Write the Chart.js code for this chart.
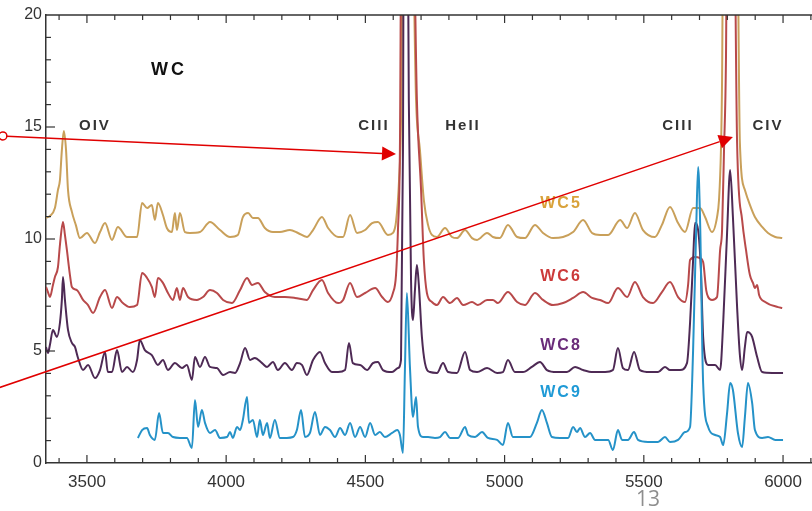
<!DOCTYPE html>
<html><head><meta charset="utf-8">
<script src="https://cdn.jsdelivr.net/npm/chart.js@4.4.1/dist/chart.umd.min.js"></script>
<style>
html,body{margin:0;padding:0;background:#fff;}
#wrap{position:relative;width:812px;height:511px;overflow:hidden;background:#fff;}
canvas{display:block;}
#pg{position:absolute;left:636px;top:484px;font:21px "Open Sans",sans-serif;color:#8e8e8e;}
</style></head><body>
<div id="wrap"><canvas id="c" width="812" height="511"></canvas><div id="pg">13</div></div>
<script>
// ---- axis ticks ----
const xTicks=[3500,4000,4500,5000,5500,6000];
const yTicks=[0,5,10,15,20];
const seriesNames=['WC5','WC6','WC8','WC9'];

// ---- WC5 ----
const wc5Wave=[3353,3367,3385,3396,3403,3410,3417,3425,3432,3446,
3460,3475,3500,3529,3547,3565,3590,3611,3644,3680,
3698,3716,3733,3744,3755,3773,3787,3805,3816,3823,
3834,3852,3870,3906,3942,3978,4014,4042,4060,4079,
4096,4114,4139,4168,4193,4229,4258,4290,4312,4344,
4366,4402,4420,4445,4470,4499,4524,4545,4581,4599,
4610,4621,4628,4639,4660,4682,4696,4710,4725,4739,
4757,4786,4811,4829,4858,4883,4901,4937,4958,4983,
5012,5045,5073,5109,5138,5174,5210,5246,5282,5314,
5343,5372,5415,5440,5468,5497,5540,5565,5594,5623,
5648,5677,5702,5720,5745,5763,5770,5777,5781,5788,
5831,5845,5863,5881,5899,5925,5946,5972,5997];
const wc5Flux=[10.94,11.03,11.38,12.19,12.63,13.97,14.82,13.97,12.19,11.21,
10.63,10.04,10.27,9.82,10.31,10.71,9.96,10.54,10.09,10.09,
11.61,11.38,11.52,10.85,11.61,11.07,10.49,10.31,11.16,10.40,
11.16,10.31,10.27,10.31,10.76,10.40,10.09,10.18,10.98,11.16,
10.94,10.94,10.49,10.31,10.31,10.40,10.27,10.09,10.40,10.98,
10.49,10.09,10.09,11.07,10.27,10.40,10.71,10.76,10.18,10.27,
10.76,12.63,15.31,30,30,16.21,13.97,11.74,10.63,10.18,
10.09,10.49,10.09,10.04,10.40,10.04,9.96,10.27,10.09,10.04,
10.63,10.09,10.04,10.63,10.27,10.04,10.09,10.31,10.85,10.27,
10.18,10.18,10.85,10.49,11.16,10.40,10.09,10.63,11.43,10.71,
10.31,11.38,11.38,10.98,10.31,10.98,11.74,13.97,17.10,30,
30,14.29,12.19,11.52,10.98,10.54,10.27,10.09,10.04];

// ---- WC6 ----
const wc6Wave=[3353,3360,3367,3378,3385,3396,3403,3414,3421,3428,
3439,3446,3464,3486,3504,3522,3547,3565,3590,3608,
3629,3654,3680,3698,3716,3733,3744,3755,3773,3791,
3809,3823,3834,3845,3863,3895,3917,3942,3967,3989,
4021,4050,4075,4093,4114,4139,4175,4211,4247,4290,
4312,4344,4366,4402,4420,4445,4470,4499,4535,4560,
4581,4599,4610,4617,4624,4632,4664,4685,4700,4710,
4721,4739,4757,4779,4804,4829,4851,4883,4904,4937,
4958,4976,5012,5045,5073,5109,5138,5174,5210,5246,
5282,5314,5343,5372,5407,5440,5468,5497,5533,5565,
5594,5623,5648,5659,5666,5684,5702,5713,5724,5731,
5745,5763,5774,5781,5788,5795,5802,5820,5835,5853,
5867,5881,5892,5899,5907,5914,5936,5982,5997];
const wc6Flux=[7.86,7.63,7.41,7.95,8.30,8.75,9.73,10.76,10.18,9.51,
8.39,7.86,7.72,7.28,7.05,6.70,7.41,7.72,6.92,7.41,
7.14,6.96,7.05,8.48,8.26,7.86,7.41,8.26,8.04,7.59,
7.28,7.81,7.28,7.81,7.41,7.28,7.41,7.72,7.59,7.28,
7.14,7.72,8.26,7.95,8.04,7.63,7.41,7.41,7.37,7.28,
7.72,8.17,7.59,7.14,7.28,8.04,7.41,7.59,7.81,7.41,
7.19,7.59,8.39,10.40,13.97,30,30,16.21,12.19,9.06,
7.59,7.19,7.05,7.41,7.14,7.37,7.05,7.19,7.05,7.28,
7.28,7.14,7.63,7.19,7.05,7.59,7.28,7.05,7.14,7.37,
7.63,7.37,7.28,7.14,7.81,7.41,8.08,7.41,7.14,7.63,
8.08,7.41,7.19,7.95,9.06,9.20,9.15,8.97,7.72,7.41,
7.28,7.41,9.51,10.40,13.97,17.99,30,30,14.29,10.85,
9.51,8.39,8.04,7.81,7.95,7.50,7.19,6.96,6.92];

// ---- WC8 ----
const wc8Wave=[3353,3360,3367,3378,3392,3403,3410,3414,3421,3432,
3446,3457,3468,3486,3504,3529,3547,3565,3575,3590,
3608,3626,3644,3665,3680,3690,3708,3733,3755,3773,
3791,3816,3841,3859,3877,3888,3906,3924,3942,3967,
3989,4014,4032,4050,4068,4086,4103,4129,4147,4168,
4186,4211,4236,4254,4272,4290,4312,4337,4355,4380,
4402,4427,4441,4455,4481,4506,4527,4545,4563,4596,
4617,4628,4635,4639,4649,4656,4664,4671,4678,4685,
4692,4703,4714,4732,4757,4779,4797,4829,4858,4876,
4901,4937,4973,4994,5012,5037,5066,5098,5127,5152,
5188,5224,5253,5282,5318,5361,5389,5407,5425,5443,
5465,5486,5522,5551,5576,5594,5630,5655,5666,5677,
5684,5695,5705,5713,5731,5756,5774,5785,5799,5810,
5820,5835,5845,5853,5863,5871,5881,5889,5907,5925,
5961,6000];
const wc8Flux=[5.18,4.91,5.27,5.94,5.63,6.25,7.28,8.30,7.28,5.94,
5.36,5.18,4.69,4.15,4.38,3.79,4.15,4.96,4.06,4.06,
5.04,4.06,4.29,4.06,4.60,5.49,5.04,4.82,4.38,4.60,
4.15,4.46,4.24,4.38,3.71,4.73,4.29,4.73,4.29,4.24,
3.93,4.06,4.02,4.46,5.13,4.60,4.69,4.46,4.29,4.51,
4.15,4.46,4.15,4.46,4.38,3.93,4.60,4.96,4.46,4.06,
4.06,4.15,5.36,4.46,4.38,4.15,4.46,4.51,4.15,4.06,
4.24,4.60,13.97,30,30,16.21,8.17,6.38,7.72,8.84,
7.95,5.63,4.46,4.06,4.02,4.46,4.06,4.02,4.96,4.15,
4.06,4.24,4.02,4.06,4.60,4.06,4.06,4.29,4.51,4.15,
4.06,4.06,4.29,4.15,4.06,4.06,4.15,5.13,4.24,4.15,
4.96,4.15,4.06,4.06,4.29,4.15,4.15,4.46,6.25,9.06,
10.71,10.40,8.62,5.63,4.38,4.38,4.15,6.25,10.27,13.08,
10.98,6.96,4.82,4.15,5.18,5.85,5.80,5.63,4.73,4.06,
4.02,4.02];

// ---- WC9 ----
const wc9Wave=[3683,3698,3716,3726,3744,3759,3773,3791,3809,3834,
3859,3877,3888,3899,3913,3924,3942,3960,3978,4003,
4014,4024,4039,4050,4060,4075,4082,4096,4111,4121,
4132,4147,4157,4175,4193,4218,4240,4254,4269,4283,
4301,4319,4337,4355,4373,4391,4409,4427,4445,4463,
4481,4499,4517,4535,4552,4570,4596,4614,4624,4635,
4642,4649,4660,4671,4682,4689,4707,4725,4750,4768,
4786,4804,4833,4858,4869,4894,4919,4940,4973,4994,
5012,5030,5066,5091,5116,5134,5152,5170,5199,5228,
5246,5260,5271,5289,5307,5325,5350,5372,5389,5407,
5422,5443,5465,5479,5515,5551,5576,5594,5623,5648,
5666,5677,5688,5695,5702,5713,5731,5756,5774,5785,
5799,5810,5820,5838,5853,5863,5874,5889,5899,5925,
5946,5972,6000];
const wc9Flux=[1.12,1.47,1.56,1.25,1.03,2.23,1.34,1.34,1.16,1.12,
1.12,0.67,2.81,1.61,2.37,1.79,1.34,1.47,1.12,1.16,
1.38,1.12,1.61,1.47,1.92,2.95,1.79,1.92,1.16,1.92,
1.25,1.79,1.12,1.92,1.12,1.12,1.16,1.47,2.37,1.16,
1.34,2.28,1.25,1.61,1.47,1.16,1.56,1.25,1.79,1.16,
1.61,1.16,1.79,1.25,1.38,1.16,1.34,1.47,1.25,0.45,
4.15,7.59,4.29,2.05,2.95,1.61,1.16,1.16,1.12,1.16,
1.38,1.12,1.12,1.61,1.25,1.16,1.38,1.12,1.03,0.80,
1.79,1.16,1.16,1.16,1.79,2.37,1.79,1.16,1.12,1.12,
1.61,1.38,1.56,1.16,1.34,1.03,1.03,1.03,0.58,1.47,
1.03,1.03,1.38,1.03,0.94,0.94,1.16,0.94,1.03,1.38,
1.61,5.04,10.40,13.21,10.85,3.57,1.61,1.25,1.16,0.80,
2.23,3.57,3.26,1.34,0.71,2.05,3.57,2.68,1.47,1.12,
1.16,1.03,1.03];

// ---- annotations (data coordinates) ----
const lineIds=[
 {text:'OIV',x:3525,y:15.04},{text:'CIII',x:4527,y:15.04},{text:'HeII',x:4847,y:15.04},
 {text:'CIII',x:5619,y:15.04},{text:'CIV',x:5942,y:15.04}];
const titleLabel={text:'WC',x:3791,y:17.54};
const seriesLabelPos={x:5199,y:[11.56,8.30,5.22,3.13]};
const arrows=[
 {from:[3198,14.60],to:[4610,13.79],circle:true},
 {from:[3170,3.30],to:[5820,14.55],circle:false}];

const lineColors=['#c9a05a','#b8494a','#4e2a55','#2592c8'];
const labelColors=['#d9a23a','#cc3a3a','#6a2c7a','#1f9ad6'];

function pts(w,f){return w.map((v,i)=>({x:v,y:f[i]}));}
const waves=[wc5Wave,wc6Wave,wc8Wave,wc9Wave];
const fluxes=[wc5Flux,wc6Flux,wc8Flux,wc9Flux];
// draw WC9 on top: dataset index 0 is drawn last in Chart.js
const order=[3,2,1,0];
const datasets=order.map(k=>({
  label:seriesNames[k],data:pts(waves[k],fluxes[k]),borderColor:lineColors[k],
  borderWidth:2,pointRadius:0,fill:false,cubicInterpolationMode:'monotone'}));

const overlay={id:'overlay',afterDraw(chart){
  const {ctx,chartArea:a,scales:{x,y}}=chart;
  ctx.save();
  ctx.strokeStyle='#333';ctx.lineWidth=1.5;
  ctx.beginPath();ctx.moveTo(a.left,a.top);ctx.lineTo(a.right+2,a.top);ctx.stroke();
  ctx.lineWidth=1.2;
  for(let v=3400;v<=6100;v+=100){
    const px=x.getPixelForValue(v); if(px<a.left||px>a.right) continue;
    const L=(v%500===0)?8:5;
    ctx.beginPath();ctx.moveTo(px,a.bottom);ctx.lineTo(px,a.bottom-L);
    ctx.moveTo(px,a.top);ctx.lineTo(px,a.top+L);ctx.stroke();
  }
  for(let v=1;v<20;v++){
    const py=y.getPixelForValue(v);const L=(v%5===0)?9:5;
    ctx.beginPath();ctx.moveTo(a.left,py);ctx.lineTo(a.left+L,py);ctx.stroke();
  }
  // text labels
  ctx.textAlign='center';ctx.textBaseline='middle';
  ctx.letterSpacing='2px';
  ctx.fillStyle='#333';ctx.font='bold 15px "Liberation Sans", Arial, sans-serif';
  lineIds.forEach(t=>ctx.fillText(t.text,x.getPixelForValue(t.x)+1,y.getPixelForValue(t.y)));
  ctx.letterSpacing='3px';
  ctx.fillStyle='#111';ctx.font='bold 18px "Liberation Sans", Arial, sans-serif';
  ctx.fillText(titleLabel.text,x.getPixelForValue(titleLabel.x)+1,y.getPixelForValue(titleLabel.y));
  ctx.letterSpacing='2px';
  ctx.font='bold 16px "Liberation Sans", Arial, sans-serif';
  seriesNames.forEach((n,i)=>{ctx.fillStyle=labelColors[i];
    ctx.fillText(n,x.getPixelForValue(seriesLabelPos.x)+1,y.getPixelForValue(seriesLabelPos.y[i]));});
  ctx.letterSpacing='0px';
  // arrows
  ctx.strokeStyle='#e00000';ctx.fillStyle='#e00000';ctx.lineWidth=1.5;
  arrows.forEach(ar=>{
    const x0=x.getPixelForValue(ar.from[0]),y0=y.getPixelForValue(ar.from[1]);
    const x1=x.getPixelForValue(ar.to[0]),y1=y.getPixelForValue(ar.to[1]);
    const ang=Math.atan2(y1-y0,x1-x0);const hl=14,hw=7;
    const bx=x1-hl*Math.cos(ang),by=y1-hl*Math.sin(ang);
    let sx=x0,sy=y0;
    if(ar.circle){
      ctx.beginPath();ctx.arc(x0,y0,4,0,Math.PI*2);ctx.stroke();
      sx=x0+4*Math.cos(ang);sy=y0+4*Math.sin(ang);
    }
    ctx.beginPath();ctx.moveTo(sx,sy);ctx.lineTo(bx,by);ctx.stroke();
    ctx.beginPath();ctx.moveTo(x1,y1);
    ctx.lineTo(bx+hw*Math.sin(ang),by-hw*Math.cos(ang));
    ctx.lineTo(bx-hw*Math.sin(ang),by+hw*Math.cos(ang));
    ctx.closePath();ctx.fill();
  });
  ctx.restore();
}};

new Chart(document.getElementById('c'),{
  type:'line',
  data:{datasets},
  options:{
    responsive:false,animation:false,devicePixelRatio:1,
    layout:{padding:{top:15,right:0,left:0,bottom:0}},
    plugins:{legend:{display:false},tooltip:{enabled:false}},
    scales:{
      x:{type:'linear',min:3353,max:6104,
        grid:{display:false,drawTicks:false},
        border:{display:true,color:'#333',width:1.5},
        ticks:{font:{family:'"Liberation Sans", Arial, sans-serif',size:17},color:'#333',padding:9,maxRotation:0,autoSkip:false,
          callback:v=>String(v)},
        afterBuildTicks:s=>{s.ticks=xTicks.map(v=>({value:v}));},
        afterFit:s=>{s.height=48;}},
      y:{type:'linear',min:0,max:20,
        grid:{display:false,drawTicks:false},
        border:{display:true,color:'#333',width:1.5},
        ticks:{font:{family:'"Liberation Sans", Arial, sans-serif',size:16},color:'#333',padding:4,
          callback:v=>String(v)},
        afterBuildTicks:s=>{s.ticks=yTicks.map(v=>({value:v}));},
        afterFit:s=>{s.width=46;}}
    }
  },
  plugins:[overlay]
});
</script>
</body></html>
